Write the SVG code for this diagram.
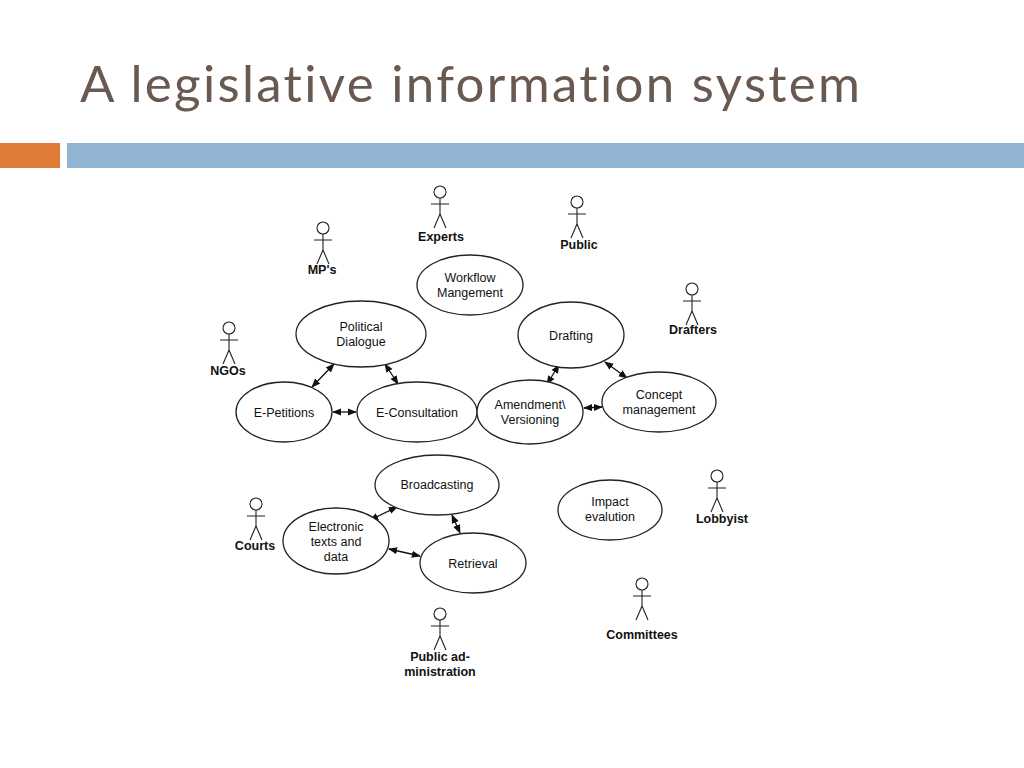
<svg xmlns="http://www.w3.org/2000/svg" width="1024" height="768" viewBox="0 0 1024 768">
<style>
.t{font-family:"Liberation Sans",Arial,sans-serif;font-size:12.5px;fill:#111;text-anchor:middle}
.a{font-family:"Liberation Sans",Arial,sans-serif;font-size:12.5px;font-weight:bold;fill:#111;text-anchor:middle}
.e{fill:#fff;stroke:#222;stroke-width:1.3}
.s{fill:none;stroke:#222;stroke-width:1.1}
.c{stroke:#111;stroke-width:1.3;marker-start:url(#m);marker-end:url(#m)}
</style>
<defs>
<marker id="m" viewBox="0 0 10 10" refX="9" refY="5" markerWidth="7" markerHeight="7" orient="auto-start-reverse"><path d="M0,1 L10,5 L0,9 z" fill="#111"/></marker>
<g id="p"><circle cx="0" cy="-10" r="6" class="s"/><path class="s" d="M0,-4 V12 M-9,2 H9 M0,12 L-6,26 M0,12 L6,26"/></g>
</defs>
<rect width="1024" height="768" fill="#fff"/>
<text x="80" y="102" font-family="Lato,'Open Sans',sans-serif" font-size="51" fill="#6a5950" style="font-variant-ligatures:none" textLength="780" lengthAdjust="spacing">A legislative information system</text>
<rect x="0" y="143" width="60" height="25" fill="#e07b39"/>
<rect x="67" y="143" width="957" height="25" fill="#92b4d5"/>
<g id="connectors">
<line class="c" x1="334" y1="364" x2="312" y2="387"/>
<line class="c" x1="385" y1="364" x2="398" y2="384"/>
<line class="c" x1="333" y1="412" x2="356" y2="412"/>
<line class="c" x1="559" y1="365" x2="547" y2="384"/>
<line class="c" x1="605" y1="362" x2="627" y2="378"/>
<line class="c" x1="584" y1="408" x2="602" y2="407"/>
<line class="c" x1="397" y1="507" x2="370" y2="520"/>
<line class="c" x1="452" y1="515" x2="460" y2="533"/>
<line class="c" x1="389" y1="549" x2="420" y2="556"/>
</g>
<g id="workflow"><ellipse class="e" cx="470" cy="285" rx="53" ry="30"/><text class="t" x="470" y="282">Workflow</text><text class="t" x="470" y="297">Mangement</text></g>
<g id="political"><ellipse class="e" cx="361" cy="334" rx="65" ry="33"/><text class="t" x="361" y="331">Political</text><text class="t" x="361" y="346">Dialogue</text></g>
<g id="drafting"><ellipse class="e" cx="571" cy="335" rx="53" ry="33"/><text class="t" x="571" y="340">Drafting</text></g>
<g id="epetitions"><ellipse class="e" cx="284" cy="412" rx="48" ry="30"/><text class="t" x="284" y="417">E-Petitions</text></g>
<g id="econsult"><ellipse class="e" cx="417" cy="412" rx="60" ry="30"/><text class="t" x="417" y="417">E-Consultation</text></g>
<g id="amend"><ellipse class="e" cx="530" cy="412" rx="53" ry="32"/><text class="t" x="530" y="409">Amendment\</text><text class="t" x="530" y="424">Versioning</text></g>
<g id="concept"><ellipse class="e" cx="659" cy="402" rx="57" ry="30"/><text class="t" x="659" y="399">Concept</text><text class="t" x="659" y="414">management</text></g>
<g id="broadcasting"><ellipse class="e" cx="437" cy="485" rx="62" ry="30"/><text class="t" x="437" y="489">Broadcasting</text></g>
<g id="impact"><ellipse class="e" cx="610" cy="510" rx="52" ry="30"/><text class="t" x="610" y="506">Impact</text><text class="t" x="610" y="521">evalution</text></g>
<g id="electronic"><ellipse class="e" cx="336" cy="541" rx="53" ry="33"/><text class="t" x="336" y="531">Electronic</text><text class="t" x="336" y="546">texts and</text><text class="t" x="336" y="561">data</text></g>
<g id="retrieval"><ellipse class="e" cx="473" cy="563" rx="53" ry="30"/><text class="t" x="473" y="568">Retrieval</text></g>
<g id="experts"><use href="#p" x="440" y="202"/><text class="a" x="441" y="241">Experts</text></g>
<g id="public"><use href="#p" x="577" y="212"/><text class="a" x="579" y="249">Public</text></g>
<g id="mps"><use href="#p" x="323" y="238"/><text class="a" x="322" y="274">MP's</text></g>
<g id="drafters"><use href="#p" x="692" y="299"/><text class="a" x="693" y="334">Drafters</text></g>
<g id="ngos"><use href="#p" x="229" y="338"/><text class="a" x="228" y="375">NGOs</text></g>
<g id="lobbyist"><use href="#p" x="717" y="486"/><text class="a" x="722" y="523">Lobbyist</text></g>
<g id="courts"><use href="#p" x="256" y="514"/><text class="a" x="255" y="550">Courts</text></g>
<g id="committees"><use href="#p" x="642" y="594"/><text class="a" x="642" y="639">Committees</text></g>
<g id="pubadmin"><use href="#p" x="440" y="624"/><text class="a" x="440" y="661">Public ad-</text><text class="a" x="440" y="676">ministration</text></g>
</svg>
